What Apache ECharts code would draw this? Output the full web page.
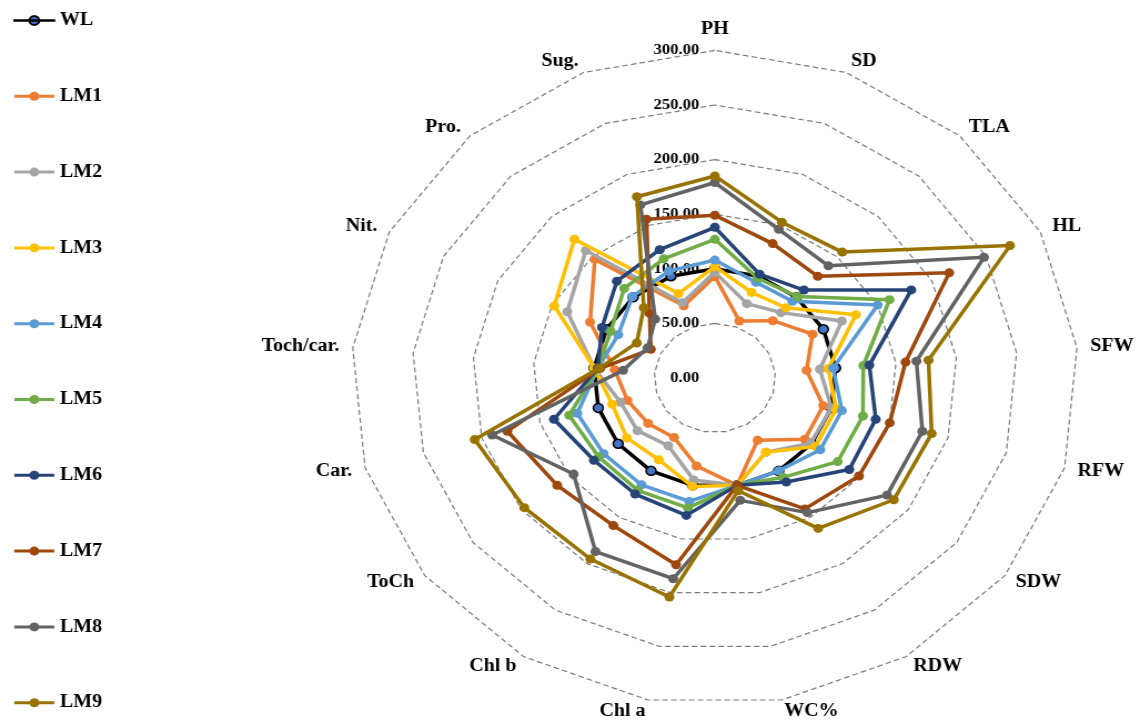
<!DOCTYPE html>
<html>
<head>
<meta charset="utf-8">
<script src="https://cdn.jsdelivr.net/npm/echarts@6/dist/echarts.min.js"></script>
<style>
html, body { margin: 0; padding: 0; background: #fff; overflow: hidden; width: 1141px; height: 722px; }
#wrap { position: absolute; left: 0; top: 0; width: 1028px; height: 722px; transform: scaleX(1.11); transform-origin: 0 0; }
#chart { width: 1028px; height: 722px; }
</style>
</head>
<body>
<div id="wrap"><div id="chart"></div></div>
<script>
// Indicators in clockwise order starting at the top
const indicatorNames = ['PH', 'SD', 'TLA', 'HL', 'SFW', 'RFW', 'SDW', 'RDW', 'WC%', 'Chl a', 'Chl b', 'ToCh', 'Car.', 'Toch/car.', 'Nit.', 'Pro.', 'Sug.'];
const seriesNames = ['WL', 'LM1', 'LM2', 'LM3', 'LM4', 'LM5', 'LM6', 'LM7', 'LM8', 'LM9'];
const axisMin = 0;
const axisMax = 300;
const axisStep = 50;

const WL  = [100, 100, 100, 100, 100, 100, 100, 100, 100, 100, 100, 100, 100, 100, 100, 100, 100];
const LM1 = [93, 56, 71, 90, 76, 93, 93, 67, 100, 82, 64, 69, 75, 83, 115, 147, 71];
const LM2 = [97, 73, 81, 117, 87, 100, 99, 80, 100, 95, 73, 80, 81, 100, 136, 158, 74];
const LM3 = [102, 84, 87, 130, 94, 104, 104, 80, 100, 101, 88, 91, 88, 100, 148, 172, 83];
const LM4 = [108, 94, 95, 150, 98, 109, 109, 100, 100, 115, 115, 115, 118, 97, 89, 101, 105];
const LM5 = [127, 98, 101, 161, 123, 127, 127, 107, 100, 121, 121, 120, 125, 97, 96, 111, 117];
const LM6 = [138, 102, 109, 181, 128, 138, 139, 112, 100, 128, 125, 125, 138, 97, 104, 120, 126];
const LM7 = [149, 132, 126, 216, 158, 150, 149, 141, 100, 174, 159, 163, 178, 95, 59, 80, 156];
const LM8 = [179, 146, 139, 248, 167, 178, 178, 145, 114, 187, 187, 146, 191, 76, 62, 73, 170];
const LM9 = [185, 153, 156, 272, 177, 186, 185, 162, 105, 204, 195, 197, 206, 96, 72, 87, 178];

const seriesValues = [WL, LM1, LM2, LM3, LM4, LM5, LM6, LM7, LM8, LM9];
const lineColors = ['#000000', '#ED7D31', '#A5A5A5', '#FFC000', '#5B9BD5', '#70AD47', '#264478', '#9E480E', '#636363', '#997300'];
const markerColors = ['#4472C4', '#ED7D31', '#A5A5A5', '#FFC000', '#5B9BD5', '#70AD47', '#264478', '#9E480E', '#636363', '#997300'];

// ECharts places radar indicators counter-clockwise; reorder so they run clockwise.
const order = [0];
for (let i = indicatorNames.length - 1; i >= 1; i--) order.push(i);

const FONT = "'Liberation Serif', 'Times New Roman', serif";

const indicator = order.map((idx, k) => {
  const o = { name: indicatorNames[idx], min: axisMin, max: axisMax };
  if (k === 0) {
    o.axisLabel = {
      show: true,
      color: '#000',
      fontFamily: FONT,
      fontWeight: 'bold',
      fontSize: 15,
      margin: 14,
      formatter: v => Number(v).toFixed(2)
    };
  }
  return o;
});

const legendIcon = 'path://M0,4.5H36V7.5H0Z M22.5,6A4.5,4.5 0 1,1 13.5,6A4.5,4.5 0 1,1 22.5,6Z';
const legendIconWL = 'path://M0,5.6H36V6.4H0Z M22.5,6A4.5,4.5 0 1,1 13.5,6A4.5,4.5 0 1,1 22.5,6Z';

const series = seriesNames.map((name, i) => ({
  type: 'radar',
  name: name,
  symbol: 'circle',
  symbolSize: 9,
  lineStyle: { color: lineColors[i], width: 3.5 },
  itemStyle: i === 0
    ? { color: markerColors[i], borderColor: '#000', borderWidth: 1.5 }
    : { color: markerColors[i] },
  data: [{ name: name, value: order.map(idx => seriesValues[i][idx]) }],
  z: 2 + i
}));

const chart = echarts.init(document.getElementById('chart'), null, { renderer: 'canvas' });
chart.setOption({
  animation: false,
  backgroundColor: '#fff',
  legend: {
    orient: 'vertical',
    left: 7,
    top: 6.5,
    itemWidth: 36,
    itemHeight: 12,
    itemGap: 57.8,
    icon: legendIcon,
    textStyle: { fontFamily: FONT, fontWeight: 'bold', fontSize: 18, color: '#000' },
    data: seriesNames.map((n, i) => i === 0
      ? { name: n, icon: legendIconWL, itemStyle: { color: markerColors[0], borderColor: '#000', borderWidth: 1.8 } }
      : { name: n, itemStyle: { color: lineColors[i] } })
  },
  radar: {
    center: [644, 378],
    radius: 327.6,
    startAngle: 90,
    shape: 'polygon',
    splitNumber: (axisMax - axisMin) / axisStep,
    axisName: { color: '#000', fontFamily: FONT, fontWeight: 'bold', fontSize: 18 },
    nameGap: 12,
    axisLine: { show: false },
    axisTick: { show: false },
    axisLabel: { show: false },
    splitArea: { show: false },
    splitLine: { lineStyle: { color: '#7a7a7a', width: 1.2, type: [5, 3] } },
    indicator: indicator
  },
  series: series
});
</script>
</body>
</html>
